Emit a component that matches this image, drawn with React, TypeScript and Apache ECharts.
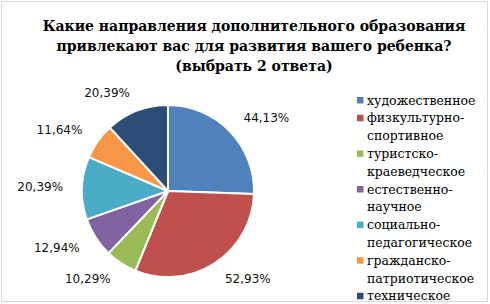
import React, { useEffect, useRef } from "react";
import * as echarts from "echarts";

const titleLines = [
  "Какие направления дополнительного образования",
  "привлекают вас для развития вашего ребенка?",
  "(выбрать 2 ответа)",
];
const categories = [
  "художественное",
  "физкультурно-спортивное",
  "туристско-краеведческое",
  "естественно-научное",
  "социально-педагогическое",
  "гражданско-патриотическое",
  "техническое",
];
const values = [44.13, 52.93, 10.29, 12.94, 20.39, 11.64, 20.39];
const colors = ["#4F81BD", "#C0504D", "#9BBB59", "#8064A2", "#4BACC6", "#F79646", "#2C4D75"];

export default function App() {
  const ref = useRef<HTMLDivElement>(null);
  useEffect(() => {
    if (!ref.current) return;
    const chart = echarts.init(ref.current, undefined, { renderer: "svg" });
    const legendEls: any[] = [];
    let k = 0;
    const lineH = 17.8;
    const top0 = 100;
    categories.forEach((c, i) => {
      const idx = c.indexOf("-");
      const lines = idx >= 0 ? [c.slice(0, idx + 1), c.slice(idx + 1)] : [c];
      const y0 = top0 + lineH * k;
      legendEls.push({
        type: "rect",
        shape: { x: 357, y: y0 - 3, width: 6.5, height: 6.5 },
        style: { fill: colors[i] },
      });
      lines.forEach((ln, j) => {
        legendEls.push({
          type: "text",
          x: 367,
          y: top0 + lineH * (k + j),
          style: {
            text: ln,
            fontFamily: "DejaVu Serif",
            fontSize: 12.5,
            fill: "#000",
            verticalAlign: "middle",
            align: "left",
          },
        });
      });
      k += lines.length;
    });
    chart.setOption({
      animation: false,
      backgroundColor: "#ffffff",
      title: {
        text: titleLines.join("\n"),
        left: 249,
        top: 11,
        textAlign: "center",
        textStyle: {
          fontFamily: "DejaVu Serif",
          fontWeight: "bold",
          fontSize: 14,
          lineHeight: 20,
          color: "#000",
        },
      },
      graphic: [
        {
          type: "rect",
          shape: { x: 1.5, y: 1.5, width: 486, height: 300 },
          style: { fill: "none", stroke: "#d9d9d9", lineWidth: 1 },
          silent: true,
        },
        ...legendEls,
      ],
      series: [
        {
          type: "pie",
          center: [168, 191],
          radius: 86,
          startAngle: 90,
          clockwise: true,
          avoidLabelOverlap: false,
          data: categories.map((c, i) => ({
            name: c,
            value: values[i],
            itemStyle: { color: colors[i] },
          })),
          itemStyle: { borderColor: "#fff", borderWidth: 2 },
          label: {
            show: true,
            position: "outside",
            distanceToLabelLine: 0,
            formatter: (p: any) => p.value.toFixed(2).replace(".", ",") + "%",
            fontFamily: "DejaVu Sans",
            fontSize: 12,
            color: "#111",
          },
          labelLine: { show: false, length: 19, length2: 0 },
          emphasis: { disabled: true },
        },
      ],
    });
    return () => chart.dispose();
  }, []);
  return (
    <div
      ref={ref}
      style={{ position: "absolute", left: 0, top: 0, width: 490, height: 304, background: "#fff" }}
    />
  );
}
